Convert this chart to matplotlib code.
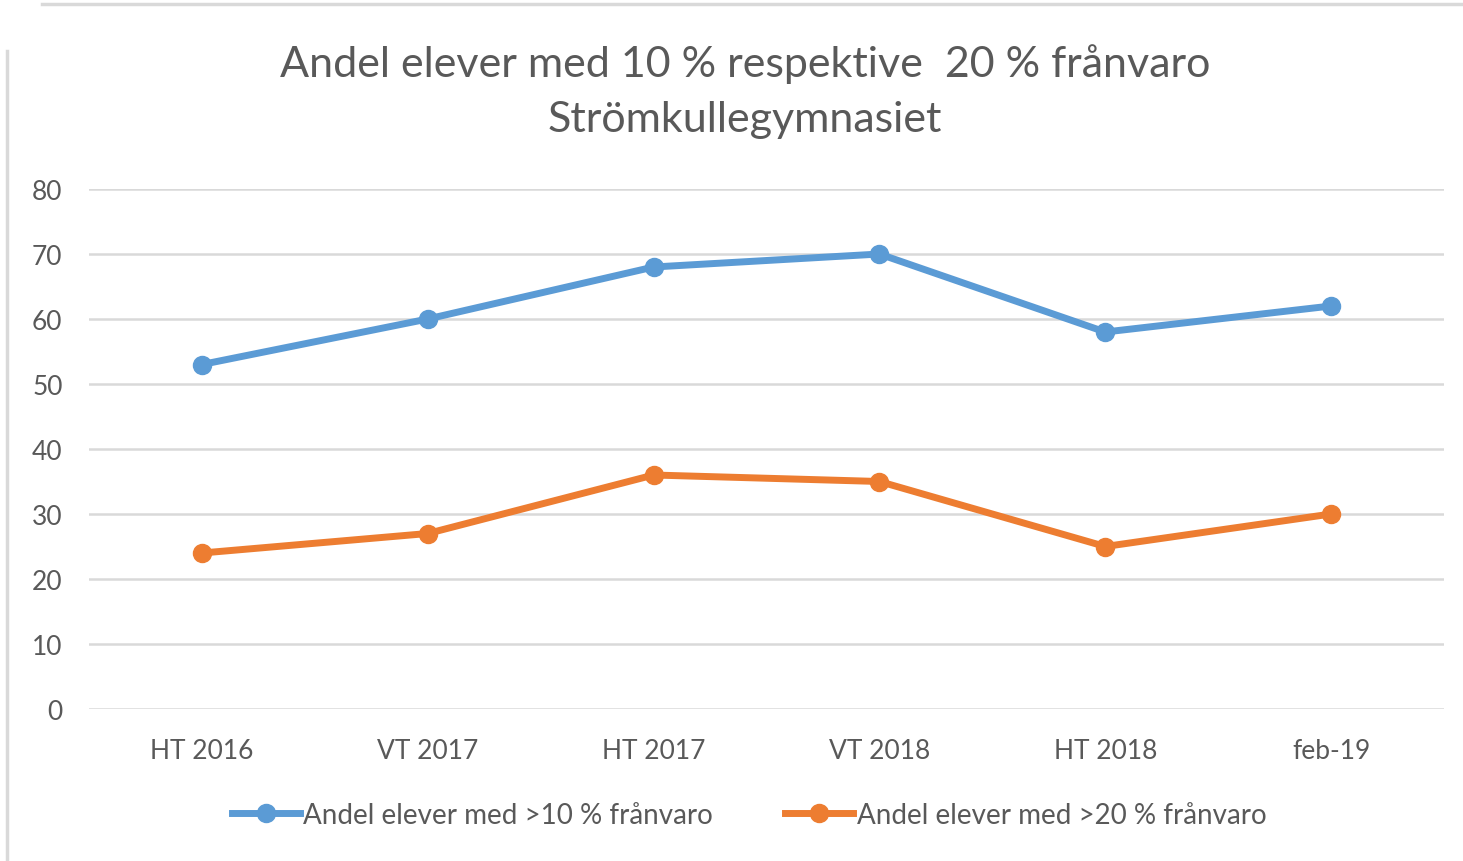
import matplotlib
matplotlib.use("Agg")
import matplotlib.pyplot as plt
from matplotlib.lines import Line2D

categories = ["HT 2016", "VT 2017", "HT 2017", "VT 2018", "HT 2018", "feb-19"]
over10 = [53, 60, 68, 70, 58, 62]
over20 = [24, 27, 36, 35, 25, 30]
series_labels = ["Andel elever med >10 % frånvaro", "Andel elever med >20 % frånvaro"]
title = "Andel elever med 10 % respektive  20 % frånvaro\nStrömkullegymnasiet"
yticks = [0, 10, 20, 30, 40, 50, 60, 70, 80]

plt.rcParams['font.family'] = ['Lato', 'DejaVu Sans']
TXT = "#595959"
W, H = 1463, 862
fig = plt.figure(figsize=(W/100, H/100), dpi=100)
ax = fig.add_axes([89/W, 152/H, (1444-89)/W, 520/H])

x = list(range(len(categories)))
ax.plot(x, over10, color="#5B9BD5", lw=5, marker="o", ms=13, solid_capstyle="round", zorder=3, label=series_labels[0])
ax.plot(x, over20, color="#ED7D31", lw=5, marker="o", ms=13, solid_capstyle="round", zorder=3, label=series_labels[1])

ax.set_xlim(-0.5, len(categories) - 0.5)
ax.set_ylim(0, 80)
ax.set_yticks(yticks)
ax.set_xticks(x)
ax.set_xticklabels(categories)
ax.grid(axis="y", color="#D9D9D9", lw=1.8)
ax.set_axisbelow(True)
for s in ax.spines.values():
    s.set_visible(False)
ax.tick_params(length=0, colors=TXT, labelsize=19)
ax.tick_params(axis="y", pad=19)
ax.tick_params(axis="x", pad=21)
for lab in ax.get_yticklabels():
    lab.set_horizontalalignment("right")

fig.text(745/W, 1 - 92/H, title, ha="center", va="center", fontsize=31, color=TXT, linespacing=1.55)

handles = [Line2D([], [], color="#5B9BD5", lw=5, marker="o", ms=13),
           Line2D([], [], color="#ED7D31", lw=5, marker="o", ms=13)]
fig.legend(handles, series_labels, loc="center", bbox_to_anchor=(749/W, 1 - 816/H), ncol=2,
           frameon=False, fontsize=20, labelcolor=TXT, handlelength=2.45, handletextpad=0.12,
           columnspacing=2.6)

# chart frame fragments
fig.add_artist(Line2D([42/W, 1], [1 - 5/H, 1 - 5/H], color="#D9D9D9", lw=2.5, transform=fig.transFigure))
fig.add_artist(Line2D([7/W, 7/W], [0, 1 - 52/H], color="#D9D9D9", lw=2.5, transform=fig.transFigure))

fig.savefig("out.png", dpi=100, facecolor="white")
